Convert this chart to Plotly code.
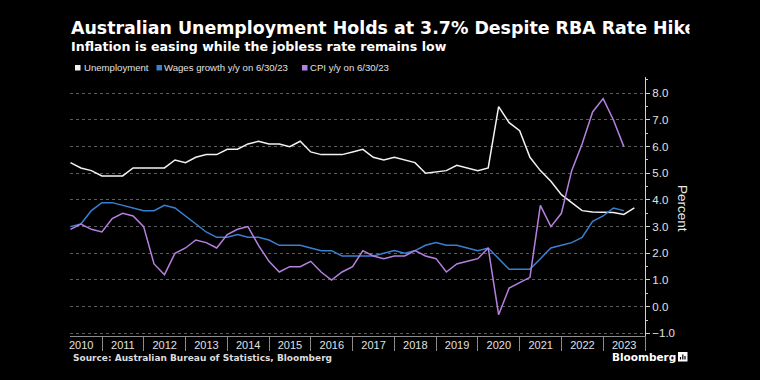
import plotly.graph_objects as go

# Quarter-end dates, Q1 2010 .. Q3 2023
quarters = [f"{y}-{md}" for y in range(2010, 2024)
            for md in ("03-31", "06-30", "09-30", "12-31")][:55]

unemployment = [5.4, 5.2, 5.1, 4.9, 4.9, 4.9, 5.2, 5.2, 5.2, 5.2,
                5.5, 5.4, 5.6, 5.7, 5.7, 5.9, 5.9, 6.1, 6.2, 6.1,
                6.1, 6.0, 6.2, 5.8, 5.7, 5.7, 5.7, 5.8, 5.9, 5.6,
                5.5, 5.6, 5.5, 5.4, 5.0, 5.05, 5.1, 5.3, 5.2, 5.1,
                5.2, 7.5, 6.9, 6.6, 5.6, 5.1, 4.7, 4.2, 3.9, 3.6,
                3.55, 3.54, 3.53, 3.46, 3.7]

wages = [3.0, 3.1, 3.6, 3.9, 3.9, 3.8, 3.7, 3.6, 3.6, 3.8,
         3.7, 3.4, 3.1, 2.8, 2.6, 2.6, 2.7, 2.6, 2.6, 2.5,
         2.3, 2.3, 2.3, 2.2, 2.1, 2.1, 1.9, 1.9, 1.9, 1.9,
         2.0, 2.1, 2.0, 2.1, 2.3, 2.4, 2.3, 2.3, 2.2, 2.1,
         2.2, 1.8, 1.4, 1.4, 1.4, 1.8, 2.2, 2.3, 2.4, 2.6,
         3.2, 3.4, 3.7, 3.6]

cpi = [2.9, 3.1, 2.9, 2.8, 3.3, 3.5, 3.4, 3.0, 1.6, 1.2,
       2.0, 2.2, 2.5, 2.4, 2.2, 2.7, 2.9, 3.0, 2.3, 1.7,
       1.3, 1.5, 1.5, 1.7, 1.3, 1.0, 1.3, 1.5, 2.1, 1.9,
       1.8, 1.9, 1.9, 2.1, 1.9, 1.8, 1.3, 1.6, 1.7, 1.8,
       2.2, -0.3, 0.7, 0.9, 1.1, 3.8, 3.0, 3.5, 5.1, 6.1,
       7.3, 7.8, 7.0, 6.0]

series_names = ["Unemployment", "Wages growth y/y on 6/30/23", "CPI y/y on 6/30/23"]
series_colors = ["#f2f2f2", "#3a80d0", "#b680e0"]

title = "Australian Unemployment Holds at 3.7% Despite RBA Rate Hike"
subtitle = "Inflation is easing while the jobless rate remains low"
source = "Source: Australian Bureau of Statistics, Bloomberg"

W, H = 760, 380
L, R, T, B = 70, 115, 77, 44
PW, PH = W - L - R, H - T - B


def px(x):
    return (x - L) / PW


def py(y):
    return (H - B - y) / PH


fig = go.Figure()
for vals, name, color in zip([unemployment, wages, cpi], series_names, series_colors):
    fig.add_trace(go.Scatter(x=quarters[:len(vals)], y=vals, mode="lines", name=name,
                             line=dict(color=color, width=1.5), showlegend=False,
                             hoverinfo="skip"))

annotations = [
    dict(text=f"<b>{title}</b>", x=px(69), y=py(28), xanchor="left", yanchor="middle",
         font=dict(family="DejaVu Sans", size=17.4, color="#ffffff")),
    # the reference header is clipped at its right edge
    dict(text=" ", x=px(689), y=py(28), xanchor="left", yanchor="middle",
         width=70, height=26, bgcolor="#000000", borderpad=0,
         font=dict(size=10, color="#000000")),
    dict(text=f"<b>{subtitle}</b>", x=px(69), y=py(46.5), xanchor="left", yanchor="middle",
         font=dict(family="DejaVu Sans", size=12.6, color="#ffffff")),
    dict(text=f"<b>{source}</b>", x=px(71), y=py(357.5), xanchor="left", yanchor="middle",
         font=dict(family="DejaVu Sans", size=9, color="#dcdcdc")),
    dict(text="<b>Bloomberg</b>", x=px(610), y=py(356.5), xanchor="left", yanchor="middle",
         font=dict(family="DejaVu Sans", size=10.5, color="#ffffff")),
    dict(text="Percent", x=px(683), y=py(208), xanchor="center", yanchor="middle",
         textangle=90, font=dict(family="Liberation Sans", size=13.5, color="#e6e6e6")),
]

legend_sq = [75, 156.5, 302]
legend_tx = [82, 162, 307.5]
shapes = []
for sx, tx, name, color in zip(legend_sq, legend_tx, series_names, series_colors):
    shapes.append(dict(type="rect", xref="paper", yref="paper",
                       x0=px(sx), x1=px(sx + 5.5), y0=py(70.5), y1=py(65),
                       fillcolor=color, line=dict(width=0)))
    annotations.append(dict(text=name, x=px(tx), y=py(67.5), xanchor="left", yanchor="middle",
                            font=dict(family="Liberation Sans", size=9.6, color="#e0e0e0")))

# Bloomberg logo glyph
shapes.append(dict(type="rect", xref="paper", yref="paper",
                   x0=px(678), x1=px(687.5), y0=py(361.5), y1=py(352),
                   fillcolor="#ffffff", line=dict(width=0)))
for bx, top in [(680.5, 357), (682.8, 354.5), (685, 356)]:
    shapes.append(dict(type="line", xref="paper", yref="paper",
                       x0=px(bx), x1=px(bx), y0=py(359.5), y1=py(top),
                       line=dict(color="#000000", width=1.2)))

for a in annotations:
    a.update(xref="paper", yref="paper", showarrow=False)

fig.update_layout(
    width=W, height=H,
    margin=dict(l=L, r=R, t=T, b=B),
    paper_bgcolor="#000000", plot_bgcolor="#000000",
    annotations=annotations, shapes=shapes,
    showlegend=False, hovermode=False,
    xaxis=dict(
        type="date", range=["2010-03-27", "2024-01-01"],
        tick0="2010-01-01", dtick="M12", tickformat="%Y", ticklabelmode="period",
        ticks="outside", ticklen=14, tickcolor="#8c8c8c", tickwidth=1,
        ticklabelstandoff=-15,
        showline=True, linecolor="#8c8c8c", linewidth=1,
        showgrid=False, zeroline=False,
        tickfont=dict(family="Liberation Sans", size=11, color="#e0e0e0"),
    ),
    yaxis=dict(
        side="right", range=[-1.1, 8.61], dtick=1, tick0=0, tickformat=".1f",
        ticks="outside", ticklen=4, tickcolor="#d0d0d0", tickwidth=1,
        minor=dict(dtick=0.5, ticks="outside", ticklen=2, tickcolor="#d0d0d0", showgrid=False),
        showline=True, linecolor="#d0d0d0", linewidth=1,
        showgrid=True, gridcolor="#5c5c5c", griddash="dot", gridwidth=1,
        zeroline=False,
        tickfont=dict(family="Liberation Sans", size=11.5, color="#e0e0e0"),
    ),
)

post = ("document.documentElement.style.margin='0';document.documentElement.style.background='#000';"
        "document.body.style.margin='0';document.body.style.padding='0';"
        "document.body.style.background='#000';document.body.style.overflow='hidden';")
fig.write_html("out.html", post_script=post, config={"displayModeBar": False, "staticPlot": True})
